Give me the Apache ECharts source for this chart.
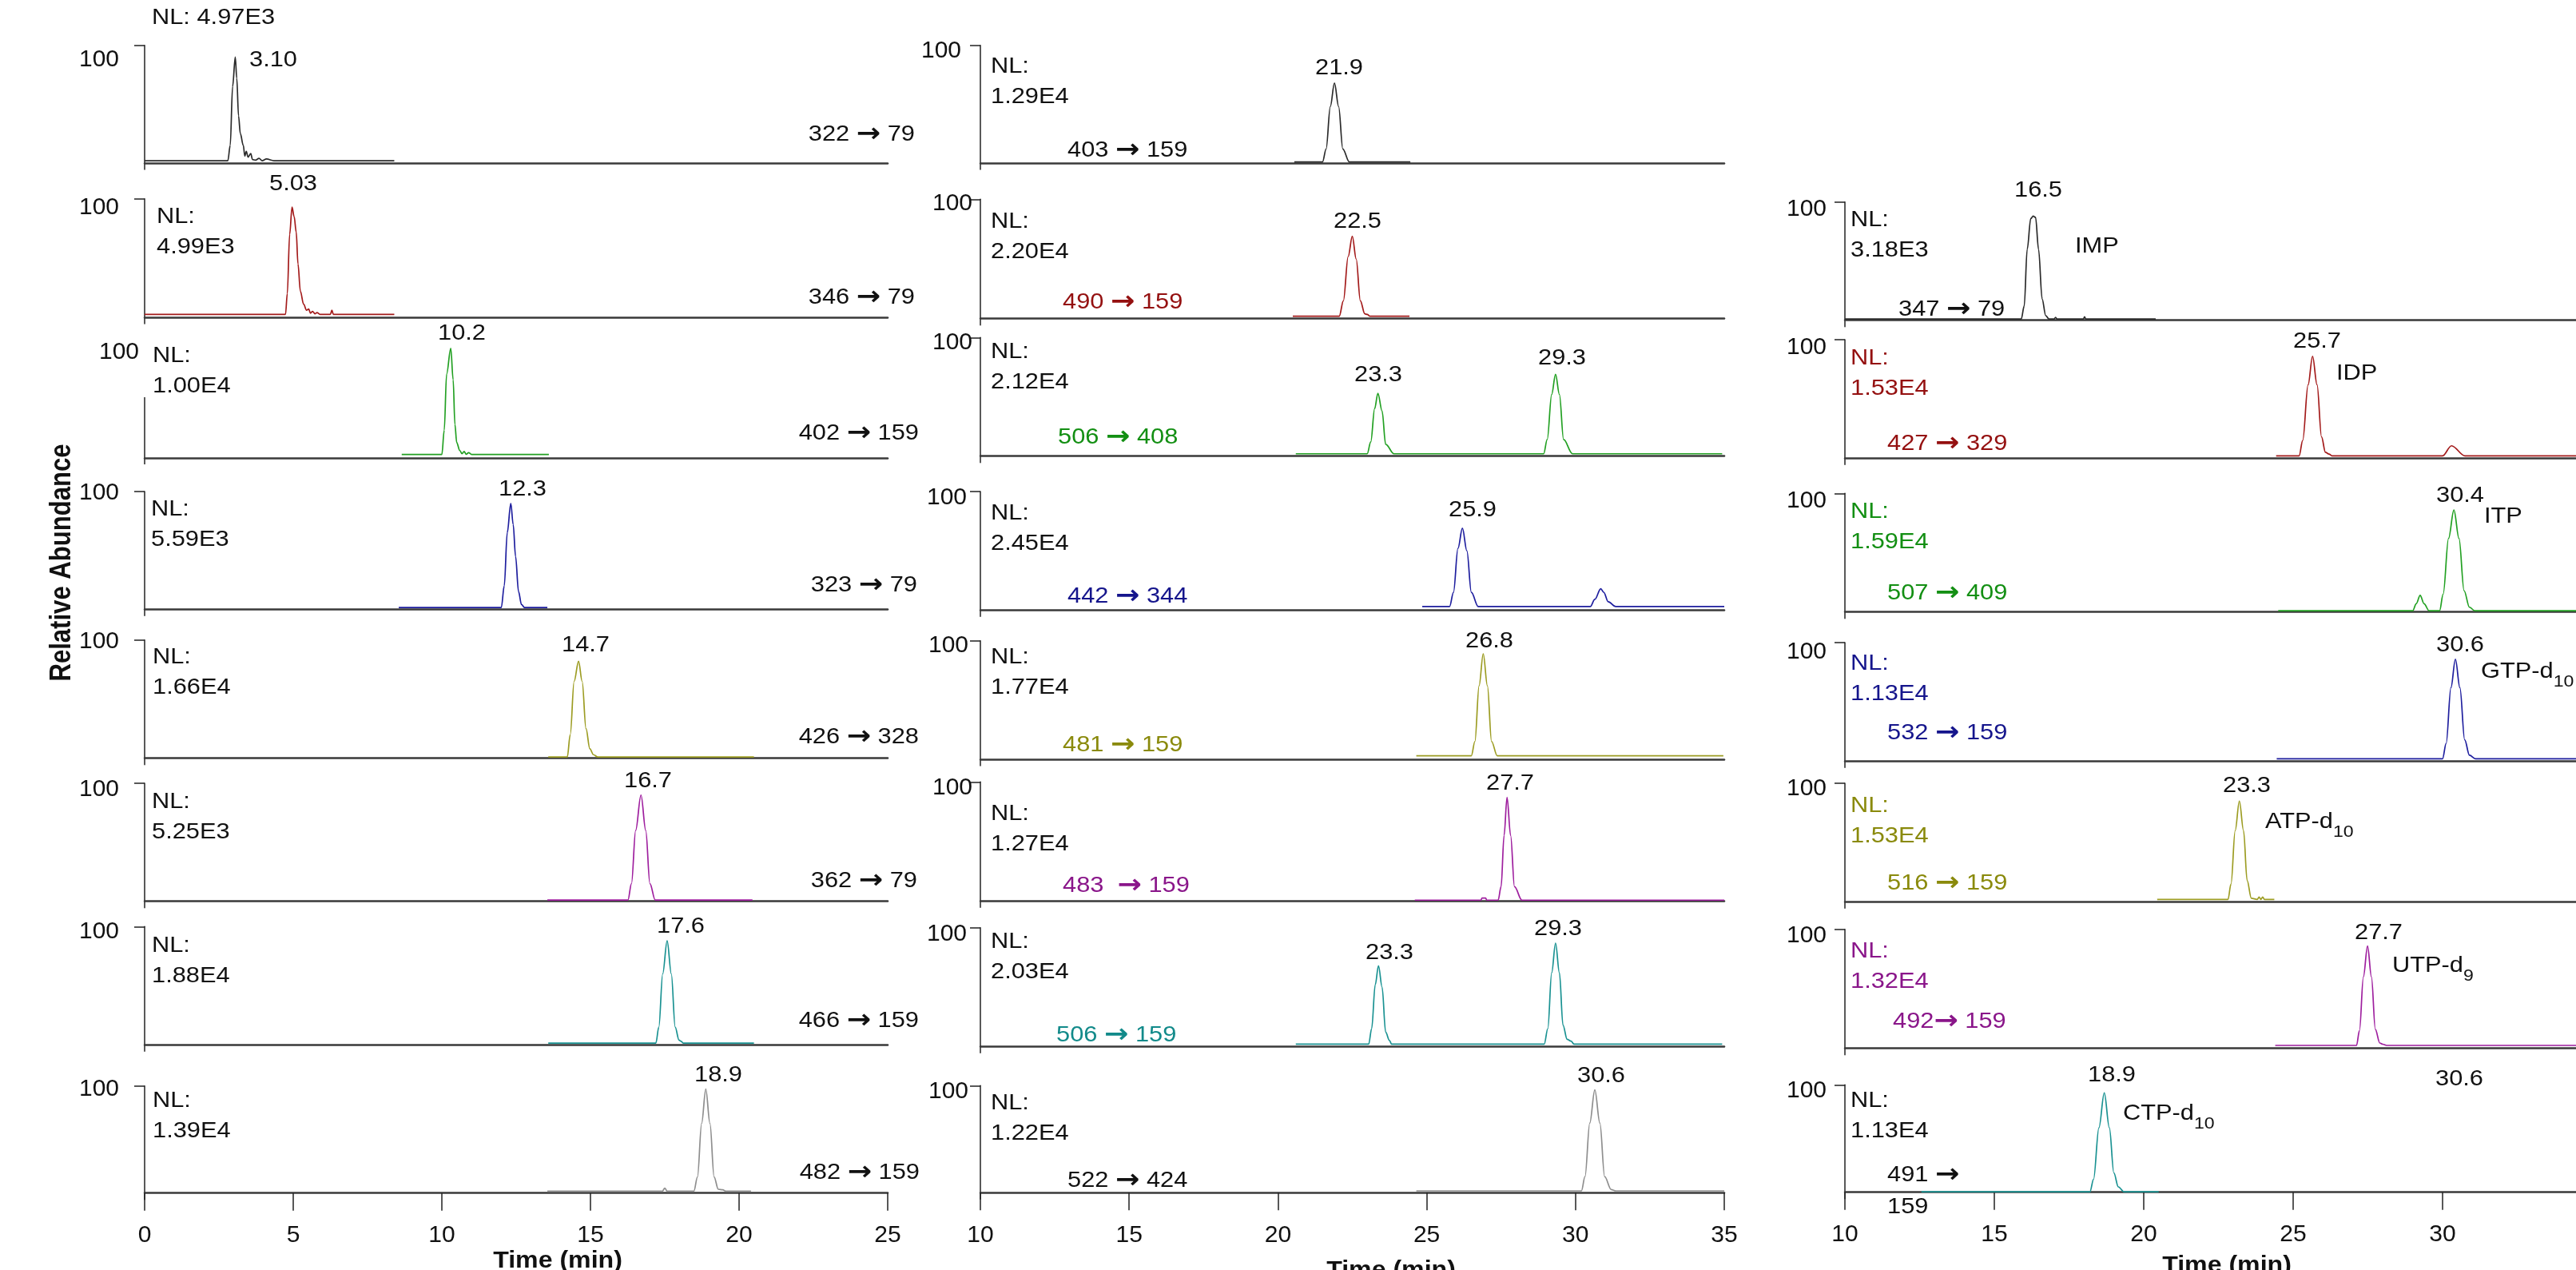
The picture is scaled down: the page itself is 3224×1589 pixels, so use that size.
<!DOCTYPE html>
<html><head><meta charset="utf-8">
<script src="https://cdn.jsdelivr.net/npm/echarts@6/dist/echarts.min.js"></script>
<style>html,body{margin:0;padding:0;background:#fff}#c{width:3224px;height:1589px}</style>
</head><body><div id="c"></div>
<script>
// ---------------- DATA ----------------
// Column 1 traces [time (min), relative abundance]
const c1p1 = [[0,2],[2.8,2],[2.88,15],[2.96,65],[3.05,90],[3.1,72],[3.16,40],[3.22,25],[3.32,15],[3.37,6],[3.42,10],[3.48,5],[3.57,8],[3.63,3],[3.73,2.5],[3.85,4],[3.95,2],[4.1,3.5],[4.35,2],[8.4,2]];
const c1p2 = [[0,2.5],[4.74,2.5],[4.8,20],[4.88,70],[4.96,93],[5.03,85],[5.1,72],[5.16,45],[5.24,22],[5.35,11],[5.45,6],[5.52,7],[5.58,3.5],[5.65,5],[5.73,3],[5.8,4],[5.9,2.5],[6.25,2.5],[6.3,6],[6.35,2.5],[8.4,2.5]];
const c1p3 = [[8.65,3.3],[10.0,3.3],[10.08,25],[10.16,75],[10.3,98],[10.38,70],[10.44,30],[10.5,14],[10.6,7],[10.68,4],[10.75,6],[10.82,3.5],[10.9,5],[11.0,3.3],[13.6,3.3]];
const c1p4 = [[8.55,1.5],[12.0,1.5],[12.1,20],[12.2,65],[12.32,90],[12.4,72],[12.48,45],[12.58,15],[12.68,4],[12.78,1.5],[13.55,1.5]];
const c1p5 = [[13.58,1],[14.22,1],[14.32,20],[14.45,65],[14.6,82],[14.72,65],[14.85,25],[14.98,8],[15.1,3],[15.25,1],[20.5,1]];
const c1p6 = [[13.55,1],[16.26,1],[16.38,15],[16.52,60],[16.7,90],[16.86,60],[17.0,15],[17.18,1],[20.45,1]];
const c1p7 = [[13.58,1.5],[17.2,1.5],[17.3,15],[17.43,60],[17.58,88],[17.72,60],[17.85,15],[17.98,4],[18.05,3],[18.12,1.5],[20.5,1.5]];
const c1p8 = [[13.55,1.8],[17.42,1.8],[17.5,4.5],[17.58,1.8],[18.48,1.8],[18.6,15],[18.74,65],[18.88,97],[19.02,65],[19.16,15],[19.3,3.5],[19.45,3],[19.55,1.8],[20.4,1.8]];
// Column 2 traces
const c2p1 = [[20.55,1],[21.5,1],[21.62,12],[21.76,48],[21.9,68],[22.04,48],[22.18,12],[22.4,1],[24.45,1]];
const c2p2 = [[20.5,2],[22.06,2],[22.2,15],[22.36,52],[22.5,69],[22.63,50],[22.77,15],[22.92,4],[23.0,3.5],[23.1,2],[24.42,2]];
const c2p3 = [[20.6,2],[23.0,2],[23.12,12],[23.25,40],[23.36,53],[23.5,38],[23.62,10],[23.9,2],[28.93,2],[29.05,14],[29.2,52],[29.33,69],[29.46,52],[29.6,14],[29.9,2],[34.93,2]];
const c2p4 = [[24.85,3],[25.77,3],[25.9,15],[26.05,52],[26.2,69],[26.35,50],[26.5,15],[26.73,3],[30.5,3],[30.65,9],[30.85,18],[30.95,15],[31.1,7],[31.35,3],[35,3]];
const c2p5 = [[24.65,3],[26.5,3],[26.62,15],[26.76,62],[26.9,89],[27.04,62],[27.18,15],[27.37,3],[34.97,3]];
const c2p6 = [[24.6,0.7],[26.82,0.7],[26.86,2.5],[26.98,2.5],[27.02,0.7],[27.4,0.7],[27.5,12],[27.6,55],[27.7,87],[27.82,55],[27.95,12],[28.2,0.7],[35,0.7]];
const c2p7 = [[20.6,2],[23.05,2],[23.15,15],[23.27,52],[23.38,68],[23.5,50],[23.62,12],[23.75,5],[23.82,2],[28.95,2],[29.07,15],[29.2,62],[29.33,87],[29.46,62],[29.58,18],[29.72,6],[29.85,4.5],[29.95,2],[34.93,2]];
const c2p8 = [[24.65,1.7],[30.2,1.7],[30.32,15],[30.48,65],[30.65,96],[30.82,65],[30.98,15],[31.2,3],[31.36,1.7],[35,1.7]];
// Column 3 traces
const c3p1 = [[10,1],[15.9,1],[16.0,12],[16.1,60],[16.22,86],[16.3,88],[16.38,87],[16.48,60],[16.6,18],[16.72,4],[16.83,1],[17.0,1],[17.05,2.5],[17.1,1],[17.98,1],[18.02,3],[18.06,1],[20.4,1]];
const c3p2 = [[24.43,2],[25.2,2],[25.32,15],[25.5,62],[25.65,86],[25.8,62],[25.95,18],[26.08,5],[26.2,3.5],[26.3,2],[30.0,2],[30.3,10.5],[30.75,2],[35,2]];
const c3p3 = [[24.5,1],[29.0,1],[29.12,7],[29.25,14],[29.38,7],[29.55,1],[29.9,1],[30.02,15],[30.2,62],[30.38,86],[30.55,62],[30.72,18],[30.9,4],[31.08,1],[35,1]];
const c3p4 = [[24.45,2],[30.0,2],[30.12,15],[30.28,62],[30.43,86],[30.58,62],[30.74,18],[30.9,5],[31.1,2],[35,2]];
const c3p5 = [[20.45,2],[22.82,2],[22.92,15],[23.06,60],[23.2,85],[23.34,60],[23.46,18],[23.6,3],[23.8,2],[23.86,4],[23.92,2],[23.98,4],[24.04,2],[24.37,2]];
const c3p6 = [[24.4,2.5],[27.12,2.5],[27.22,15],[27.35,60],[27.49,86],[27.62,60],[27.75,16],[27.9,4.5],[28.0,3.5],[28.13,2.5],[35,2.5]];
const c3p7 = [[12.56,0.5],[18.2,0.5],[18.32,12],[18.5,60],[18.68,92.5],[18.85,60],[19.0,18],[19.15,5],[19.34,0.5],[20.5,0.5]];

const col1Traces = [c1p1,c1p2,c1p3,c1p4,c1p5,c1p6,c1p7,c1p8];
const col2Traces = [c2p1,c2p2,c2p3,c2p4,c2p5,c2p6,c2p7,c2p8];
const col3Traces = [c3p1,c3p2,c3p3,c3p4,c3p5,c3p6,c3p7];

const col1NL = ['4.97E3','4.99E3','1.00E4','5.59E3','1.66E4','5.25E3','1.88E4','1.39E4'];
const col2NL = ['1.29E4','2.20E4','2.12E4','2.45E4','1.77E4','1.27E4','2.03E4','1.22E4'];
const col3NL = ['3.18E3','1.53E4','1.59E4','1.13E4','1.53E4','1.32E4','1.13E4'];

const col1Trans = ['322 → 79','346 → 79','402 → 159','323 → 79','426 → 328','362 → 79','466 → 159','482 → 159'];
const col2Trans = ['403 → 159','490 → 159','506 → 408','442 → 344','481 → 159','483  → 159','506 → 159','522 → 424'];
const col3Trans = ['347 → 79','427 → 329','507 → 409','532 → 159','516 → 159','492→ 159','491 →\n159'];

const col1RT = [['3.10'],['5.03'],['10.2'],['12.3'],['14.7'],['16.7'],['17.6'],['18.9']];
const col2RT = [['21.9'],['22.5'],['23.3','29.3'],['25.9'],['26.8'],['27.7'],['23.3','29.3'],['30.6']];
const col3RT = [['16.5'],['25.7'],['30.4'],['30.6'],['23.3'],['27.7'],['18.9','30.6']];
const col3Names = [['IMP',''],['IDP',''],['ITP',''],['GTP-d','10'],['ATP-d','10'],['UTP-d','9'],['CTP-d','10']];

const col1Ticks = [0,5,10,15,20,25];
const col2Ticks = [10,15,20,25,30,35];
const col3Ticks = [10,15,20,25,30];
const xLabel = 'Time (min)';
const yLabel = 'Relative Abundance';

// ---------------- STYLE / LAYOUT ----------------
const FONT = "'Liberation Sans', Arial, Helvetica, sans-serif";
const ARROW_FONT = "'DejaVu Sans', 'Liberation Sans', sans-serif";
const K='#111', RED='#941010', GRN='#138f13', BLU='#15158c', OLV='#8a8a0c', MAG='#8a168a', TEA='#128a8a';
const traceColors = ['#2a2a2a','#a31a1a','#22a022','#1e1e9e','#9c9c22','#9e1e9e','#1a9292','#8e8e8e'];
const col2TransColors = [K,RED,GRN,BLU,OLV,MAG,TEA,K];
const col3TextColors = [K,RED,GRN,BLU,OLV,MAG,K];

const cols = [
  {left:181, width:930, min:0, max:25, traces:col1Traces, ticks:col1Ticks,
   tops:[56.7,248.7,433,615,800.7,980,1159.3,1358.7],
   bases:[204,397,573.3,762.3,948.7,1127.7,1307.3,1492.7],
   ym:[32,32,7,32,32,32,32,32], ydy:[18,11,7,1,2,7,6,4]},
  {left:1227, width:931, min:10, max:35, traces:col2Traces, ticks:col2Ticks,
   tops:[56.7,249.3,422.3,615,801.7,978.3,1160.7,1358.3],
   bases:[204,398.7,570.7,763.3,950,1127.3,1309.3,1492.3],
   ym:[24,10,10,17,15,10,17,15], ydy:[7,5,6,7,6,7,8,7]},
  {left:2309, width:935, min:10, max:35, traces:col3Traces, ticks:col3Ticks,
   tops:[252.7,425,617.3,804,980,1162.7,1357.3],
   bases:[400.7,573.3,765.7,952.3,1128.3,1311.7,1491.7],
   ym:[23,23,23,23,23,23,23], ydy:[9,9,9,11,6,8,7]}
];

const col1NLPos = [[190,12],[196,261],[191,435],[189,627],[191,812],[190,993],[190,1173],[191,1367]];
const col2NLPos = [[1240,73],[1240,267],[1240,430],[1240,632],[1240,812],[1240,1008],[1240,1168],[1240,1370]];
const col3NLPos = [[2316,265],[2316,438],[2316,630],[2316,820],[2316,998],[2316,1180],[2316,1367]];
const col1TransPos = [[1145,158],[1145,362],[1150,532],[1148,722],[1150,912],[1148,1092],[1150,1267],[1151,1457]];
const col2TransPos = [[1336,178],[1330,368],[1324,537],[1336,736],[1330,922],[1330,1098],[1322,1285],[1336,1467]];
const col3TransPos = [[2376,377],[2362,545],[2362,732],[2362,907],[2362,1095],[2369,1268],[2362,1460]];
const col1RTPos = [[[312,65,'left']],[[367,220]],[[578,407]],[[654,602]],[[733,797]],[[811,967]],[[852,1149]],[[899,1335]]];
const col2RTPos = [[[1676,75]],[[1699,267]],[[1725,459],[1955,438]],[[1843,628]],[[1864,792]],[[1890,970]],[[1739,1182],[1950,1152]],[[2004,1336]]];
const col3RTPos = [[[2551,228]],[[2900,417]],[[3079,610]],[[3079,797]],[[2812,973]],[[2977,1157]],[[2643,1335],[3078,1340]]];
const col3NamePos = [[2597,298],[2924,457],[3109,636],[3105,830],[2835,1018],[2994,1198],[2657,1383]];

const FS = 28, SX = 1.1;
function textEl(x, capTop, str, o){
  o = o || {};
  const lh = o.lh || 30;
  const color = o.color || K;
  const align = o.align || 'left';
  const y = capTop - (lh/2 + 0.3465*FS - 0.716*FS);
  return {
    type:'text', x:x, y:y, scaleX:SX, silent:true,
    style:{
      text:str, fill:color, fontSize:FS, fontFamily:FONT, lineHeight:lh,
      align:align, verticalAlign:'top', textAlign:align, textVerticalAlign:'top',
      rich:{
        a: {fontSize:33, fontFamily:ARROW_FONT, fontWeight:'bold', fill:color, lineHeight:lh},
        s: {fontSize:21, fontFamily:FONT, fill:color, lineHeight:21, verticalAlign:'bottom'}
      }
    }
  };
}
function arrowize(s){ return s.split('\n').map(l => l.replace('→','{a|→}')).join('\n'); }

const elements = [];
// NL texts
col1NL.forEach((v,i)=>{
  const p = col1NLPos[i];
  if (i===0) elements.push(textEl(p[0],p[1],'NL: '+v));
  else elements.push(textEl(p[0],p[1],'NL:\n'+v,{lh:38}));
});
col2NL.forEach((v,i)=>{ const p=col2NLPos[i]; elements.push(textEl(p[0],p[1],'NL:\n'+v,{lh:38})); });
col3NL.forEach((v,i)=>{ const p=col3NLPos[i]; elements.push(textEl(p[0],p[1],'NL:\n'+v,{lh:38,color:col3TextColors[i]})); });
// transitions
col1Trans.forEach((v,i)=>{ const p=col1TransPos[i]; elements.push(textEl(p[0],p[1],arrowize(v),{align:'right'})); });
col2Trans.forEach((v,i)=>{ const p=col2TransPos[i]; elements.push(textEl(p[0],p[1],arrowize(v),{color:col2TransColors[i]})); });
col3Trans.forEach((v,i)=>{ const p=col3TransPos[i]; elements.push(textEl(p[0],p[1],arrowize(v),{color:col3TextColors[i], lh:(v.indexOf('\n')>=0?40:30)})); });
// retention time labels
[[col1RT,col1RTPos],[col2RT,col2RTPos],[col3RT,col3RTPos]].forEach(([rts,pos])=>{
  rts.forEach((arr,i)=>arr.forEach((t,j)=>{
    const p = pos[i][j];
    elements.push(textEl(p[0],p[1],t,{align:p[2]||'center'}));
  }));
});
// compound names
col3Names.forEach((n,i)=>{
  const p = col3NamePos[i];
  const str = n[1] ? n[0]+'{s|'+n[1]+'}' : n[0];
  elements.push(textEl(p[0],p[1],str,{lh:46}));
});
// axis titles
elements.push({type:'text', x:78, y:704, rotation:Math.PI/2, scaleX:0.84, silent:true,
  style:{text:yLabel, fontSize:37, fontWeight:'bold', fontFamily:FONT, fill:K,
    align:'center', verticalAlign:'middle', textAlign:'center', textVerticalAlign:'middle'}});
[[698,1567],[1741,1579],[2787,1573]].forEach(p=>{
  elements.push({type:'text', x:p[0], y:p[1]-4, scaleX:1.07, silent:true,
    style:{text:xLabel, fontSize:30, fontWeight:'bold', fontFamily:FONT, fill:K,
      align:'center', verticalAlign:'top', textAlign:'center', textVerticalAlign:'top'}});
});
// short y-axis line of column 1, panel 3
elements.push({type:'line', silent:true, shape:{x1:181, y1:497, x2:181, y2:581},
  style:{stroke:'#222', lineWidth:1.5}});

// ---------------- BUILD ----------------
const grid=[], xAxis=[], yAxis=[], series=[];
let gi = 0;
const EXT = 8;
cols.forEach((c,ci)=>{
  c.tops.forEach((top,pi)=>{
    const base = c.bases[pi], h = base - top;
    const isBottom = pi === c.tops.length-1;
    const special = (ci===0 && pi===2);
    const dy = c.ydy[pi];
    grid.push({left:c.left, top:top, width:c.width, height:h+EXT, outerBoundsMode:'none', containLabel:false});
    xAxis.push({gridIndex:gi, type:'value', min:c.min, max:c.max, interval:5,
      axisLine:{show:true, onZero:true, lineStyle:{color:'#3a3a3a', width:2.5}},
      axisTick:{show:isBottom, customValues:c.ticks, length:22, lineStyle:{color:'#222', width:1.5}},
      axisLabel:{show:isBottom, customValues:c.ticks, margin:30, fontSize:30, fontFamily:FONT, color:K,
        showMinLabel:true, showMaxLabel:true},
      splitLine:{show:false}});
    yAxis.push({gridIndex:gi, type:'value', min:-EXT/h*100, max:100,
      axisLine:{show:!special, onZero:false, lineStyle:{color:'#222', width:1.5}},
      axisTick:{show:!special, customValues:[100], length:13, lineStyle:{color:'#222', width:1.5}},
      axisLabel:{show:true, customValues:[100], margin:c.ym[pi], fontSize:30, fontFamily:FONT, color:K,
        verticalAlign:'top', lineHeight:2*dy+0.7,
        formatter:v=> (Math.abs(v-100)<1e-6 ? '100' : '')},
      splitLine:{show:false}});
    series.push({type:'line', xAxisIndex:gi, yAxisIndex:gi, data:c.traces[pi],
      symbol:'none', showSymbol:false, smooth:0.35, smoothMonotone:'x', silent:true,
      lineStyle:{color:traceColors[pi], width:1.7}});
    gi++;
  });
});

const chart = echarts.init(document.getElementById('c'), null, {renderer:'canvas'});
chart.setOption({
  backgroundColor:'#ffffff',
  animation:false,
  grid:grid, xAxis:xAxis, yAxis:yAxis, series:series,
  graphic:{elements:elements}
});
</script></body></html>
